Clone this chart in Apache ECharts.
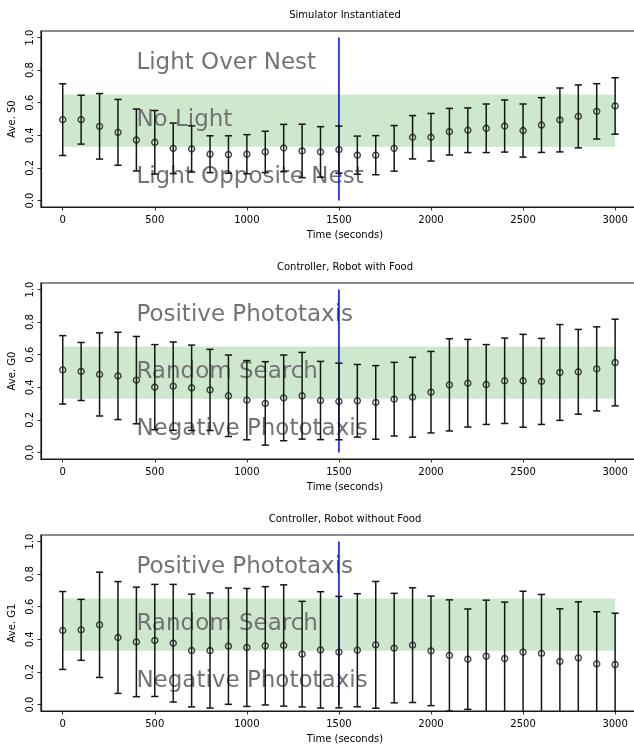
<!DOCTYPE html>
<html>
<head>
<meta charset="utf-8">
<script src="https://cdn.jsdelivr.net/npm/echarts@6/dist/echarts.min.js"></script>
<style>
html, body { margin: 0; padding: 0; background: #fff; }
#chart { width: 634px; height: 749px; }
</style>
</head>
<body>
<div id="chart"></div>
<script>
// sample times (seconds)
const times = [0, 100, 200, 300, 400, 500, 600, 700, 800, 900, 1000, 1100, 1200, 1300, 1400, 1500,
  1600, 1700, 1800, 1900, 2000, 2100, 2200, 2300, 2400, 2500, 2600, 2700, 2800, 2900, 3000]

// simulator S0: mean and half error bar
const s0Mean = [0.496, 0.496, 0.455, 0.418, 0.371, 0.357, 0.320, 0.316, 0.284, 0.282, 0.284, 0.298, 0.322, 0.304, 0.298, 0.312,
  0.278, 0.278, 0.320, 0.388, 0.388, 0.422, 0.431, 0.443, 0.457, 0.429, 0.463, 0.494, 0.516, 0.547, 0.580]
const s0Err = [0.220, 0.150, 0.201, 0.202, 0.190, 0.195, 0.155, 0.142, 0.113, 0.115, 0.120, 0.127, 0.145, 0.164, 0.155, 0.145,
  0.117, 0.120, 0.140, 0.133, 0.146, 0.143, 0.137, 0.149, 0.160, 0.163, 0.168, 0.196, 0.193, 0.170, 0.173]

// controller G0 (robot with food)
const g0Mean = [0.507, 0.497, 0.479, 0.470, 0.444, 0.401, 0.407, 0.397, 0.384, 0.348, 0.321, 0.301, 0.335, 0.348, 0.319, 0.313,
  0.317, 0.307, 0.327, 0.339, 0.370, 0.415, 0.425, 0.417, 0.440, 0.440, 0.436, 0.491, 0.495, 0.513, 0.552]
const g0Err = [0.210, 0.178, 0.255, 0.268, 0.268, 0.261, 0.271, 0.262, 0.249, 0.250, 0.243, 0.256, 0.263, 0.266, 0.240, 0.235,
  0.223, 0.226, 0.226, 0.245, 0.250, 0.283, 0.269, 0.245, 0.262, 0.285, 0.264, 0.294, 0.260, 0.258, 0.266]

// controller G1 (robot without food)
const g1Mean = [0.454, 0.458, 0.489, 0.411, 0.384, 0.393, 0.376, 0.331, 0.331, 0.358, 0.350, 0.360, 0.362, 0.309, 0.335, 0.321,
  0.333, 0.366, 0.346, 0.364, 0.329, 0.301, 0.278, 0.297, 0.282, 0.321, 0.313, 0.264, 0.286, 0.249, 0.245]
const g1Err = [0.239, 0.187, 0.323, 0.343, 0.336, 0.344, 0.361, 0.346, 0.353, 0.357, 0.362, 0.363, 0.372, 0.324, 0.357, 0.342,
  0.347, 0.389, 0.336, 0.352, 0.336, 0.341, 0.308, 0.343, 0.346, 0.374, 0.362, 0.323, 0.344, 0.320, 0.315]

const xTicks = [0, 500, 1000, 1500, 2000, 2500, 3000]
const yTicks = [0, 0.2, 0.4, 0.6, 0.8, 1.0]

const bandX = [0, 3000]
const bandY = [0.33, 0.65]
const switchTime = 1500
const switchY = [0, 1]

const panelTitles = ['Simulator Instantiated', 'Controller, Robot with Food', 'Controller, Robot without Food']
const yNames = ['Ave. S0', 'Ave. G0', 'Ave. G1']
const regionLabels = [
  ['Light Over Nest', 'No Light', 'Light Opposite Nest'],
  ['Positive Phototaxis', 'Random Search', 'Negative Phototaxis'],
  ['Positive Phototaxis', 'Random Search', 'Negative Phototaxis']
]
const labelX = 400
const labelY = [0.8, 0.45, 0.1]

const means = [s0Mean, g0Mean, g1Mean]
const errs = [s0Err, g0Err, g1Err]

const FONT = 'DejaVu Sans'
const tops = [31, 283, 535]
const gridH = 176

const dom = echarts.init(document.getElementById('chart'), null, { renderer: 'canvas' })

const grids = []
const xAxes = []
const yAxes = []
const series = []
const graphics = []

tops.forEach((top, i) => {
  grids.push({
    left: 41, top: top, width: 608, height: gridH,
    outerBoundsMode: 'none', containLabel: false,
    show: true, borderColor: '#1a1a1a', borderWidth: 1.2, backgroundColor: 'transparent'
  })
  xAxes.push({
    gridIndex: i, type: 'value', min: -118, max: 3184,
    name: 'Time (seconds)', nameLocation: 'middle', nameGap: 23,
    nameTextStyle: { fontSize: 10, color: '#000', fontFamily: FONT },
    axisLine: { show: true, onZero: false, lineStyle: { color: '#1a1a1a', width: 1.2 } },
    axisTick: { show: true, length: 3.5, customValues: xTicks, lineStyle: { color: '#000', width: 0.8 } },
    axisLabel: {
      customValues: xTicks, margin: 8, fontSize: 10, color: '#000', fontFamily: FONT,
      formatter: v => String(v)
    },
    splitLine: { show: false }
  })
  yAxes.push({
    gridIndex: i, type: 'value', min: -0.04, max: 1.04,
    name: yNames[i], nameLocation: 'middle', nameGap: 23, nameRotate: 90,
    nameTextStyle: { fontSize: 10, color: '#000', fontFamily: FONT },
    axisLine: { show: true, onZero: false, lineStyle: { color: '#1a1a1a', width: 1.2 } },
    axisTick: { show: true, length: 3.5, customValues: yTicks, lineStyle: { color: '#000', width: 0.8 } },
    axisLabel: {
      customValues: yTicks, rotate: 90, margin: 6, fontSize: 10, color: '#000', fontFamily: FONT,
      formatter: v => v.toFixed(1)
    },
    splitLine: { show: false }
  })

  // green band
  series.push({
    type: 'custom', xAxisIndex: i, yAxisIndex: i, z: 1, silent: true,
    data: [[bandX[0], bandY[0], bandX[1], bandY[1]]],
    renderItem: (params, api) => {
      const p1 = api.coord([api.value(0), api.value(3)])
      const p2 = api.coord([api.value(2), api.value(1)])
      return {
        type: 'rect',
        shape: { x: p1[0], y: p1[1], width: p2[0] - p1[0], height: p2[1] - p1[1] },
        style: { fill: '#cde8cd' }
      }
    }
  })

  // region labels
  series.push({
    type: 'custom', xAxisIndex: i, yAxisIndex: i, z: 2, silent: true,
    data: labelY.map((y, k) => [labelX, y, k]),
    renderItem: (params, api) => {
      const p = api.coord([api.value(0), api.value(1)])
      return {
        type: 'text',
        x: p[0], y: p[1] + 4,
        style: {
          text: regionLabels[i][api.value(2)],
          fill: '#737373', fontSize: 23, fontFamily: FONT,
          align: 'left', verticalAlign: 'bottom'
        }
      }
    }
  })

  // blue switch line
  series.push({
    type: 'line', xAxisIndex: i, yAxisIndex: i, z: 3, silent: true,
    symbol: 'none',
    data: switchY.map(y => [switchTime, y]),
    lineStyle: { color: '#0000ff', width: 1.5 }
  })

  // error bars
  series.push({
    type: 'custom', xAxisIndex: i, yAxisIndex: i, z: 4, silent: true, clip: true,
    data: times.map((t, j) => [t, means[i][j] - errs[i][j], means[i][j] + errs[i][j]]),
    renderItem: (params, api) => {
      const lo = api.coord([api.value(0), api.value(1)])
      const hi = api.coord([api.value(0), api.value(2)])
      const cap = 3.6
      const st = { stroke: '#151515', lineWidth: 1.5 }
      return {
        type: 'group',
        children: [
          { type: 'line', shape: { x1: lo[0], y1: lo[1], x2: hi[0], y2: hi[1] }, style: st },
          { type: 'line', shape: { x1: hi[0] - cap, y1: hi[1], x2: hi[0] + cap, y2: hi[1] }, style: st },
          { type: 'line', shape: { x1: lo[0] - cap, y1: lo[1], x2: lo[0] + cap, y2: lo[1] }, style: st }
        ]
      }
    }
  })

  // mean markers
  series.push({
    type: 'scatter', xAxisIndex: i, yAxisIndex: i, z: 5, silent: true,
    symbol: 'circle', symbolSize: 6,
    data: times.map((t, j) => [t, means[i][j]]),
    itemStyle: { color: 'rgba(0,0,0,0)', borderColor: '#151515', borderWidth: 1.4 }
  })

  graphics.push({
    type: 'text', x: 345, y: top - 21,
    style: { text: panelTitles[i], fill: '#000', fontSize: 10, fontFamily: FONT, align: 'center', verticalAlign: 'top' }
  })
})

const option = {
  animation: false,
  backgroundColor: '#fff',
  grid: grids,
  xAxis: xAxes,
  yAxis: yAxes,
  series: series,
  graphic: graphics
}

dom.setOption(option)
</script>
</body>
</html>
